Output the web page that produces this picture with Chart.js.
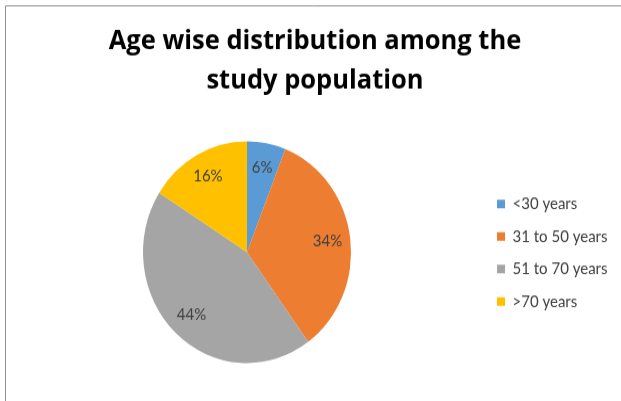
<!DOCTYPE html>
<html>
<head>
<meta charset="utf-8">
<script src="https://cdn.jsdelivr.net/npm/chart.js@4/dist/chart.umd.min.js"></script>
<style>
  html, body { margin: 0; padding: 0; background: #fff; overflow: hidden; }
  #wrap { position: absolute; left: 0; top: 0; width: 621px; height: 376px; transform: scaleY(1.0665); transform-origin: 0 0; }
</style>
</head>
<body>
<div id="wrap"><canvas id="c" width="621" height="376"></canvas></div>
<script>
const titleLines = ["Age wise distribution among the", "study population"];
const categories = ["<30 years", "31 to 50 years", "51 to 70 years", ">70 years"];
const percentages = [6, 34, 44, 16];
const sliceColors = ["#5B9BD5", "#ED7D31", "#A5A5A5", "#FFC000"];

const FONT = "Lato, 'Open Sans', sans-serif";
const TITLE_FONT = "'Open Sans', Lato, sans-serif";

const frame = {
  id: 'frame',
  beforeDraw(chart) {
    const ctx = chart.ctx;
    ctx.save();
    ctx.fillStyle = '#ffffff';
    ctx.fillRect(0, 0, chart.width, chart.height);
    ctx.strokeStyle = '#8f8f8f';
    ctx.lineWidth = 1;
    ctx.beginPath();
    ctx.moveTo(5.5, chart.height);
    ctx.lineTo(5.5, 5.5);
    ctx.lineTo(chart.width, 5.5);
    ctx.stroke();
    ctx.restore();
  }
};

const sliceLabels = {
  id: 'sliceLabels',
  afterDatasetsDraw(chart) {
    const ctx = chart.ctx;
    const meta = chart.getDatasetMeta(0);
    ctx.save();
    ctx.fillStyle = '#404040';
    ctx.font = "15px " + FONT;
    ctx.textAlign = 'center';
    ctx.textBaseline = 'middle';
    meta.data.forEach((arc, i) => {
      const p = arc.getProps(['x', 'y', 'startAngle', 'endAngle', 'outerRadius'], true);
      const mid = (p.startAngle + p.endAngle) / 2;
      const r = p.outerRadius * 0.78;
      ctx.fillText(percentages[i] + '%', p.x + Math.cos(mid) * r, p.y + Math.sin(mid) * r);
    });
    ctx.restore();
  }
};

new Chart(document.getElementById('c'), {
  type: 'pie',
  data: {
    labels: categories,
    datasets: [{
      data: percentages,
      backgroundColor: sliceColors,
      borderWidth: 0,
      radius: 104
    }]
  },
  options: {
    responsive: false,
    animation: false,
    layout: { padding: { left: 12.5, right: 3.5, top: 0, bottom: 7 } },
    plugins: {
      title: {
        display: true,
        text: titleLines,
        color: '#000000',
        font: { family: TITLE_FONT, size: 25.5, weight: 'bold', lineHeight: 1.45 },
        padding: { top: 20, bottom: 10 }
      },
      legend: {
        position: 'right',
        align: 'center',
        title: {
          display: true,
          text: ' ',
          font: { family: FONT, size: 10, lineHeight: 1 },
          padding: { top: 95, bottom: 0 }
        },
        labels: {
          boxWidth: 8,
          boxHeight: 8,
          padding: 15.5,
          color: '#404040',
          font: { family: FONT, size: 15 }
        }
      },
      tooltip: { enabled: false }
    }
  },
  plugins: [frame, sliceLabels]
});
</script>
</body>
</html>
